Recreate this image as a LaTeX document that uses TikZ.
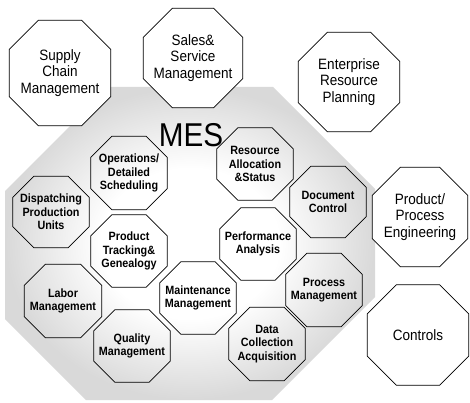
\documentclass[tikz,border=0pt]{standalone}
\usepackage{fontspec}
\setmainfont{Liberation Sans}
\newfontfamily\condfont[FakeStretch=0.9]{Liberation Sans}
\pgfdeclarelayer{bg}
\pgfsetlayers{bg,main}
\pgfdeclareradialshading{mesfade}{\pgfpoint{0bp}{0bp}}{color(0bp)=(white); color(12bp)=(white); color(25bp)=(black!15); color(50bp)=(black!15)}
\tikzset{
  innerbox/.style={minimum width=76pt, minimum height=72pt, inner sep=0pt, align=center,
    font=\condfont\bfseries\fontsize{12}{13.5}\selectfont},
  outerbox/.style={minimum width=100pt, minimum height=100pt, inner sep=0pt, align=center,
    font=\condfont\fontsize{15}{16.5}\selectfont},
  octline/.style={draw=black, line width=0.8pt, line join=round},
}
\newcommand\octo[3][]{%
  \path[octline,#1] ([xshift=#3]#2.north west) -- ([xshift=-#3]#2.north east)
    -- ([yshift=-#3]#2.north east) -- ([yshift=#3]#2.south east)
    -- ([xshift=-#3]#2.south east) -- ([xshift=#3]#2.south west)
    -- ([yshift=#3]#2.south west) -- ([yshift=-#3]#2.north west) -- cycle;}
\begin{document}
\begin{tikzpicture}[x=1pt,y=-1pt]
\useasboundingbox (0,0) rectangle (470,403);
% outer systems
\node[outerbox, minimum width=101pt, minimum height=105pt] (sc) at (60,73) {Supply\\Chain\\Management};
\node[outerbox, minimum width=99pt, minimum height=99pt] (ss) at (193,58) {Sales\&\\Service\\Management};
\node[outerbox, minimum width=101pt, minimum height=99pt] (erp) at (349,82) {Enterprise\\Resource\\Planning};
\node[outerbox, minimum width=95pt, minimum height=99pt] (ppe) at (420,217) {Product/\\Process\\Engineering};
\node[outerbox, minimum width=101pt, minimum height=100pt] (ctl) at (418,335) {Controls};
% MES title
\node[inner sep=0pt, font=\condfont\fontsize{33}{33}\selectfont] (mes) at (191,135) {MES};
% MES functions
\node[innerbox, minimum height=73pt] (ods) at (129,173) {Operations/\\Detailed\\Scheduling};
\node[innerbox, minimum height=71pt] (dpu) at (51,212) {Dispatching\\Production\\Units};
\node[innerbox] (ptg) at (129,251) {Product\\Tracking\&\\Genealogy};
\node[innerbox, minimum width=77pt, minimum height=73pt] (lab) at (63,301) {Labor\\Management};
\node[innerbox] (qm) at (132,346) {Quality\\Management};
\node[innerbox] (mm) at (198,298) {Maintenance\\Management};
\node[innerbox] (ras) at (255,164) {Resource\\Allocation\\\&Status};
\node[innerbox, minimum height=71pt] (dc) at (328,202) {Document\\Control};
\node[innerbox] (pa) at (258,244) {Performance\\Analysis};
\node[innerbox, minimum height=73pt] (pm) at (324,290) {Process\\Management};
\node[innerbox, minimum height=73pt] (dca) at (267,344) {Data\\Collection\\Acquisition};
\begin{pgfonlayer}{bg}
  \shade[shading=mesfade] (109,87) -- (273,87) -- (375,189) -- (375,297)
    -- (272,400) -- (86,400) -- (5,319) -- (5,191) -- cycle;
  \octo[fill=white]{sc}{29pt}
  \octo[fill=white]{ss}{29pt}
  \octo[fill=white]{erp}{29pt}
  \octo[fill=white]{ppe}{28pt}
  \octo[fill=white]{ctl}{29pt}
  \octo{ods}{21pt}
  \octo{dpu}{21pt}
  \octo{ptg}{21pt}
  \octo{lab}{21pt}
  \octo{qm}{21pt}
  \octo{mm}{21pt}
  \octo{ras}{21pt}
  \octo{dc}{21pt}
  \octo{pa}{21pt}
  \octo{pm}{21pt}
  \octo{dca}{21pt}
\end{pgfonlayer}
\end{tikzpicture}
\end{document}
